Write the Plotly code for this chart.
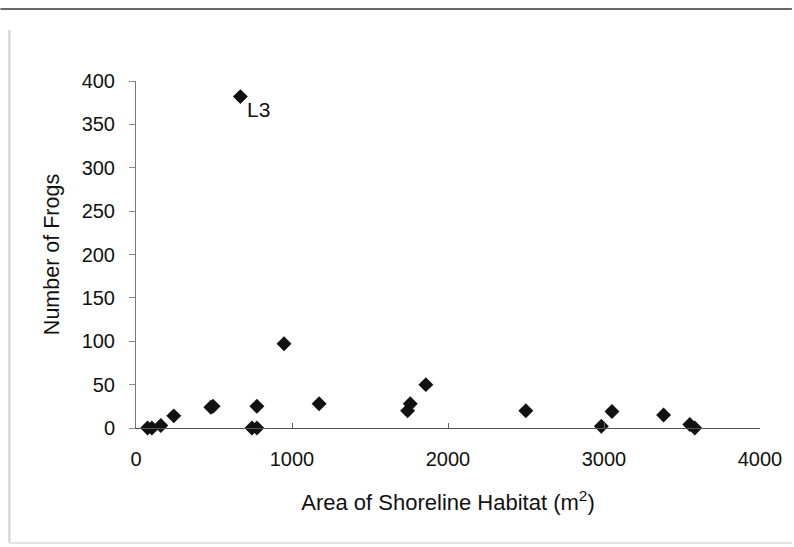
import plotly.graph_objects as go

# Data
area = [74, 102, 159, 242, 480, 494, 669, 743, 775, 775, 949, 1174,
        1741, 1758, 1858, 2499, 2983, 3051, 3382, 3550, 3582]
frogs = [0, 0, 3, 14, 24, 25, 382, 0, 0, 25, 97, 28,
         20, 28, 50, 20, 2, 19, 15, 4, 0]
x_ticks = [0, 1000, 2000, 3000, 4000]
y_ticks = [0, 50, 100, 150, 200, 250, 300, 350, 400]
label_point = ("L3", 669, 382)

W, H = 794, 547
L, R, T, B = 136, 32, 81, 119

FONT = "Liberation Sans, Arial, sans-serif"
TXT = "#111111"

fig = go.Figure()
fig.add_trace(go.Scatter(
    x=area, y=frogs, mode="markers",
    marker=dict(symbol="diamond", size=11.5, color="#111111",
                line=dict(width=0)),
    cliponaxis=False, showlegend=False, hoverinfo="x+y",
))

fig.add_annotation(
    x=label_point[1], y=label_point[2], text=label_point[0],
    showarrow=False, xanchor="left", yanchor="top",
    xshift=5, yshift=1,
    font=dict(family=FONT, size=21, color=TXT),
)

fig.update_layout(
    width=W, height=H,
    margin=dict(l=L, r=R, t=T, b=B, pad=0),
    paper_bgcolor="white", plot_bgcolor="white",
    font=dict(family=FONT, size=20, color=TXT),
    showlegend=False,
)

fig.update_xaxes(
    range=[0, 4000], tickvals=x_ticks, ticktext=[str(v) for v in x_ticks],
    showgrid=False, zeroline=False,
    showline=True, linecolor="#555555", linewidth=1,
    ticks="inside", ticklen=5, tickcolor="#666666",
    ticklabelstandoff=13,
    tickfont=dict(family=FONT, size=20, color=TXT),
    title=dict(text="Area of Shoreline Habitat (m<sup>2</sup>)",
               font=dict(family=FONT, size=22, color=TXT),
               standoff=25),
)
fig.update_yaxes(
    range=[0, 400], tickvals=y_ticks, ticktext=[str(v) for v in y_ticks],
    showgrid=False, zeroline=False,
    showline=True, linecolor="#777777", linewidth=1,
    ticks="outside", ticklen=6, tickcolor="#888888",
    ticklabelstandoff=10,
    tickfont=dict(family=FONT, size=20, color=TXT),
    title=dict(text="Number of Frogs",
               font=dict(family=FONT, size=21.5, color=TXT),
               standoff=16),
)

# Chart-area border (as in the scanned Excel chart)
pw, ph = W - L - R, H - T - B
def px_x(p):
    return (p - L) / pw
def px_y(p):
    return 1 - (p - T) / ph

fig.add_shape(type="line", xref="paper", yref="paper",
              x0=px_x(0), x1=px_x(W), y0=px_y(9), y1=px_y(9),
              line=dict(color="#6a6a6a", width=2))
fig.add_shape(type="line", xref="paper", yref="paper",
              x0=px_x(9), x1=px_x(9), y0=px_y(30), y1=px_y(543),
              line=dict(color="#d0d0d0", width=2))
fig.add_shape(type="line", xref="paper", yref="paper",
              x0=px_x(9), x1=px_x(W), y0=px_y(543), y1=px_y(543),
              line=dict(color="#e2e2e2", width=2))

fig.write_html("out.html")
